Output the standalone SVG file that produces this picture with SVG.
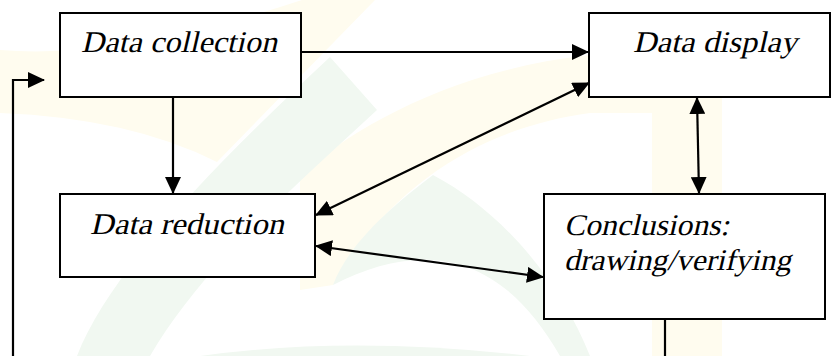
<svg xmlns="http://www.w3.org/2000/svg" width="831" height="356" viewBox="0 0 831 356">
  <style>
    .box { fill: #ffffff; stroke: #000000; stroke-width: 2; }
    .lbl { font-family: 'Liberation Serif', serif; font-style: normal; font-size: 30px; fill: #000000; }
    .edge { fill: none; stroke: #000000; stroke-width: 2.2; }
    .wy { fill: #fffcef; }
    .wg { fill: #f1f8f1; }
  </style>
  <defs>
    <marker id="ah" markerUnits="userSpaceOnUse" markerWidth="17" markerHeight="16" refX="16" refY="8" orient="auto-start-reverse">
      <path d="M0,0 L17,8 L0,16 Z" fill="#000000"/>
    </marker>
  </defs>
  <rect x="0" y="0" width="831" height="356" fill="#ffffff"/>
  <g id="watermark">
    <path class="wy" d="M0,50 Q120,60 302,0 L375,0 L217,162 Q130,118 0,113 Z"/>
    <path class="wy" d="M300,175 C350,130 450,70 590,55 L700,45 Q722,50 722,100 L722,356 L652,356 L652,113 L590,113 C500,125 400,170 333,285 L300,290 Z"/>
    <path class="wg" d="M77,356 C110,270 220,160 330,57 L377,110 C290,190 200,270 150,356 Z"/>
    <path class="wg" d="M433,175 C400,200 350,240 333,285 C420,240 500,250 560,356 L590,356 C560,280 500,210 433,175 Z"/>
    <path class="wg" d="M200,356 Q350,335 530,356 Z"/>
  </g>
  <g id="connectors">
    <path class="edge" d="M301,52 L588,52" marker-end="url(#ah)"/>
    <path class="edge" d="M173,97 L173,193" marker-end="url(#ah)"/>
    <path class="edge" d="M589,83 L316,215" marker-start="url(#ah)" marker-end="url(#ah)"/>
    <path class="edge" d="M316,246 L543,277" marker-start="url(#ah)" marker-end="url(#ah)"/>
    <path class="edge" d="M697,98 L699,193" marker-start="url(#ah)" marker-end="url(#ah)"/>
    <path class="edge" d="M665,319 L665,356"/>
    <path class="edge" d="M13,356 L13,80 L44,80" marker-end="url(#ah)"/>
  </g>
  <g id="data-collection">
    <rect class="box" x="60" y="13" width="241" height="84"/>
    <text class="lbl" transform="translate(81,52) skewX(-13)" textLength="196" lengthAdjust="spacingAndGlyphs">Data collection</text>
  </g>
  <g id="data-display">
    <rect class="box" x="589" y="13" width="241" height="84"/>
    <text class="lbl" transform="translate(633,52) skewX(-13)" textLength="164" lengthAdjust="spacingAndGlyphs">Data display</text>
  </g>
  <g id="data-reduction">
    <rect class="box" x="60" y="194" width="255" height="83"/>
    <text class="lbl" transform="translate(90,234) skewX(-13)" textLength="194" lengthAdjust="spacingAndGlyphs">Data reduction</text>
  </g>
  <g id="conclusions">
    <rect class="box" x="544" y="194" width="281" height="125"/>
    <text class="lbl" transform="translate(564,235) skewX(-13)" textLength="165" lengthAdjust="spacingAndGlyphs">Conclusions:</text>
    <text class="lbl" transform="translate(564,270) skewX(-13)" textLength="227" lengthAdjust="spacingAndGlyphs">drawing/verifying</text>
  </g>
</svg>
